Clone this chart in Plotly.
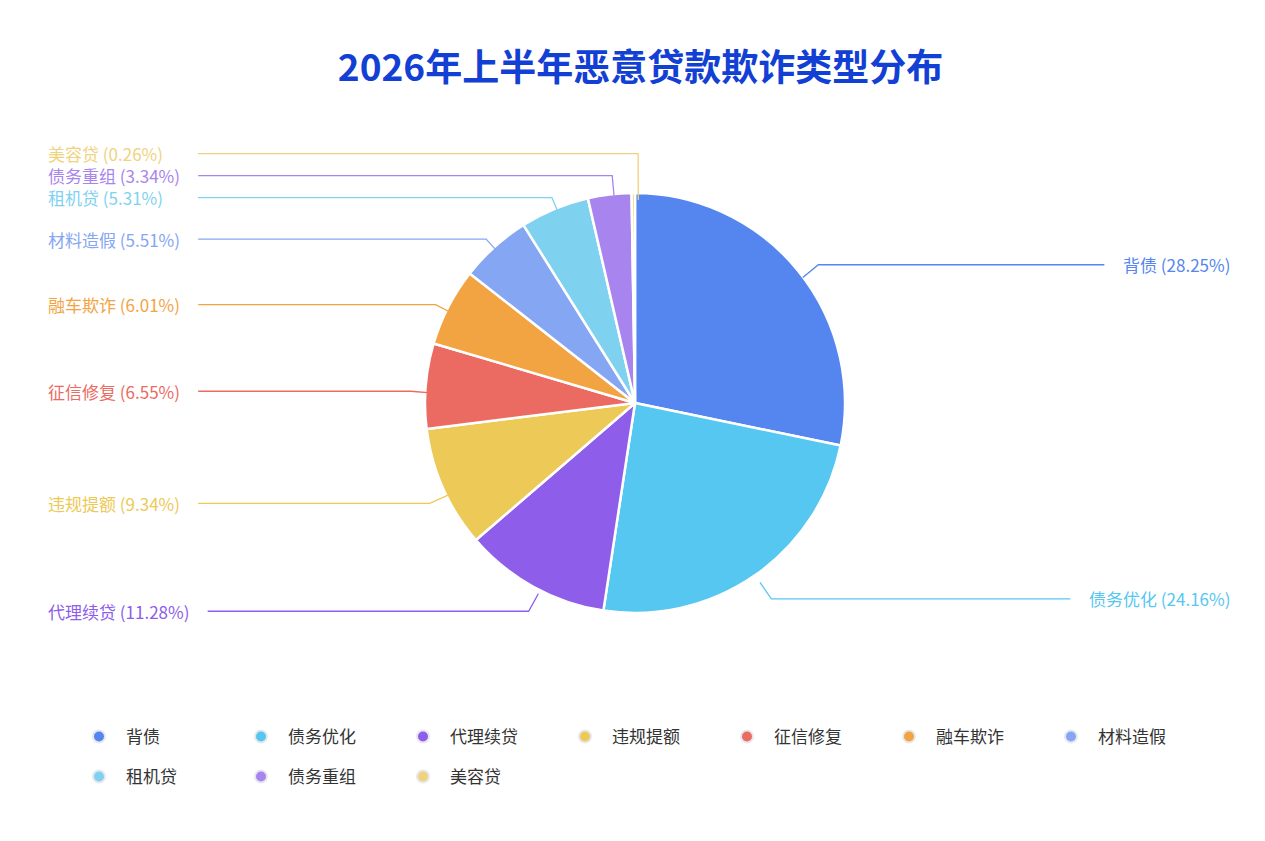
import math
import plotly.graph_objects as go

categories = ['背债', '债务优化', '代理续贷', '违规提额', '征信修复', '融车欺诈', '材料造假', '租机贷', '债务重组', '美容贷']
values = [28.25, 24.16, 11.28, 9.34, 6.55, 6.01, 5.51, 5.31, 3.34, 0.26]
colors = ['#5586F0', '#56C7F0', '#8E5DEA', '#EDC957', '#EB6A62', '#F2A443', '#85A6F3', '#7FD2EF', '#A884EE', '#EFD27E']

W, H = 1265, 841
cx, cy, r = 632, 402, 210
R = 230
FS = 17


def text_width(s):
    return sum(FS if ord(ch) > 0x2000 else FS * 0.56 for ch in s)


fig = go.Figure()
fig.add_trace(go.Pie(
    labels=categories, values=values, sort=False, direction='clockwise', rotation=0,
    marker=dict(colors=colors, line=dict(color='white', width=2.5)),
    textinfo='none', hoverinfo='label+percent', showlegend=False,
    domain=dict(x=[(cx - 5 - r) / W, (cx - 5 + r) / W], y=[(H - cy + 7 - r) / H, (H - cy + 7 + r) / H]),
))

# leader lines and labels, computed from the slice angles
total = sum(values)
cum = 0
items = []
for name, v, c in zip(categories, values, colors):
    mid = (cum + v / 2) / total * 2 * math.pi
    cum += v
    ex, ey = cx + r * math.sin(mid), cy - r * math.cos(mid)
    bx, by = cx + R * math.sin(mid), cy - R * math.cos(mid)
    items.append(dict(name=name, v=v, c=c, ex=ex, ey=ey, bx=bx, by=by, left=math.sin(mid) < 0))

left = sorted([it for it in items if it['left']], key=lambda it: -it['by'])
prev = None
for it in left:
    if prev is not None and it['by'] > prev - 22:
        it['by'] = prev - 22
    prev = it['by']

for it in items:
    label = f"{it['name']} ({it['v']:.2f}%)"
    tw = text_width(label)
    if it['left']:
        tx = max(190, 38 + tw + 8)
    else:
        tx = 1224 - tw - 8
    xs = [it['ex'], it['bx'], tx]
    ys = [it['ey'], it['by'], it['by']]
    path = 'M ' + ' L '.join(f'{x / W},{1 - y / H}' for x, y in zip(xs, ys))
    fig.add_shape(type='path', path=path, xref='paper', yref='paper',
                  line=dict(color=it['c'], width=1.3))
    fig.add_annotation(x=38 / W if it['left'] else 1224 / W, y=1 - it['by'] / H,
                       xref='paper', yref='paper', showarrow=False,
                       xanchor='left' if it['left'] else 'right', yanchor='middle',
                       text=label, font=dict(color=it['c'], size=FS))

for i, (name, c) in enumerate(zip(categories, colors)):
    fig.add_trace(go.Scatter(x=[None], y=[None], mode='markers', name=name,
                             legend='legend' if i < 7 else 'legend2',
                             marker=dict(color=c, size=15, line=dict(color='#E6E8EE', width=3))))

leg = dict(orientation='h', xanchor='left', yanchor='middle', entrywidth=103,
           font=dict(size=17, color='#333'), itemsizing='constant', itemwidth=44)
fig.update_layout(
    width=W, height=H, paper_bgcolor='white', plot_bgcolor='white',
    margin=dict(l=0, r=0, t=0, b=0),
    font=dict(family='Noto Sans CJK SC', color='#333'),
    title=dict(text='<b>2026年上半年恶意贷款欺诈类型分布</b>', x=0.5, y=1 - 60 / H,
               xanchor='center', yanchor='middle', font=dict(size=37, color='#1340D4')),
    xaxis=dict(visible=False), yaxis=dict(visible=False),
    legend=dict(leg, x=64 / W, y=1 - 729 / H),
    legend2=dict(leg, x=64 / W, y=1 - 769 / H),
)

fig.write_html('out.html')
